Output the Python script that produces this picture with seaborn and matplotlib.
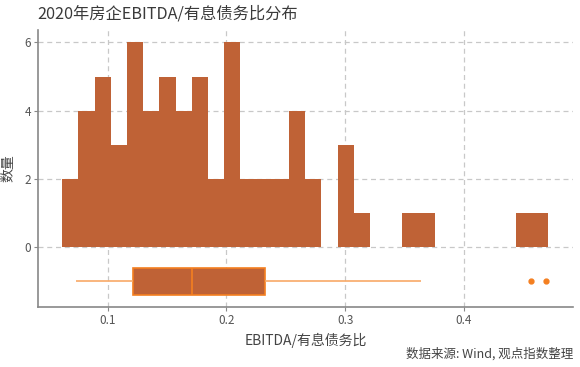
import numpy as np
import pandas as pd
import matplotlib
matplotlib.use("Agg")
import matplotlib.pyplot as plt
import seaborn as sns

# ratio values (EBITDA / interest-bearing debt)
ratios = [
    0.0737, 0.0748,
    0.077, 0.080, 0.084, 0.087,
    0.091, 0.094, 0.096, 0.099, 0.101,
    0.105, 0.109, 0.113,
    0.117, 0.119, 0.1213, 0.1223, 0.125, 0.128,
    0.132, 0.135, 0.138, 0.141,
    0.145, 0.148, 0.150, 0.153, 0.156,
    0.159, 0.162, 0.166, 0.1700,
    0.1716, 0.175, 0.178, 0.181, 0.184,
    0.188, 0.194,
    0.199, 0.201, 0.204, 0.206, 0.208, 0.211,
    0.215, 0.221,
    0.2315, 0.2327,
    0.243, 0.249,
    0.255, 0.258, 0.261, 0.264,
    0.270, 0.276,
    0.296, 0.300, 0.304,
    0.314,
    0.355,
    0.3634,
    0.4563,
    0.4687,
]
box_row = [-1] * len(ratios)
y_ticks = [0, 2, 4, 6]
x_ticks = [0.1, 0.2, 0.3, 0.4]

title = "2020年房企EBITDA/有息债务比分布"
xlabel = "EBITDA/有息债务比"
ylabel = "数量"
source = "数据来源: Wind, 观点指数整理"

df = pd.DataFrame({"ratio": ratios, "row": box_row})

sns.set_theme(style="white")
plt.rcParams["font.family"] = ["Noto Sans CJK SC", "DejaVu Sans"]

fig = plt.figure(figsize=(5.8, 3.67), dpi=100)
ax = fig.add_axes([0.065, 0.1635, 0.923, 0.7545])

bar_color = "#BF6236"
orange = "#F47F20"

sns.histplot(data=df, x="ratio", bins=30, binrange=(0.0618, 0.4709),
             element="step", fill=True,
             color=bar_color, alpha=1, linewidth=0,
             ax=ax, zorder=3)

sns.boxplot(data=df, x="ratio", y="row", orient="h", native_scale=True,
            width=0.8, color=bar_color, linecolor=orange, linewidth=1.2,
            whis=1.5, showcaps=False,
            boxprops=dict(facecolor=bar_color, edgecolor=orange),
            whiskerprops=dict(color="#F8A967", linewidth=1.2),
            medianprops=dict(color=orange, linewidth=1.2),
            flierprops=dict(marker="o", markersize=3.5, markerfacecolor=orange,
                            markeredgecolor=orange),
            ax=ax, zorder=3)

ax.set_xlim(0.0411, 0.4918)
ax.set_ylim(-1.75, 6.36)
ax.set_xticks(x_ticks)
ax.set_xticklabels([f"{v:g}" for v in x_ticks])
ax.set_yticks(y_ticks)
ax.set_yticklabels([str(v) for v in y_ticks])

ax.grid(True, which="major", axis="both", linestyle=(0, (4, 3)),
        color="#C8C8C8", linewidth=0.9, zorder=0)
ax.set_axisbelow(True)

for s in ["top", "right"]:
    ax.spines[s].set_visible(False)
for s in ["left", "bottom"]:
    ax.spines[s].set_color("#888888")
    ax.spines[s].set_linewidth(1.2)

ax.tick_params(axis="both", which="major", length=3, width=0.8, color="#888888",
               labelsize=8.5, labelcolor="#555555", pad=2, left=True, bottom=True)

ax.set_xlabel(xlabel, fontsize=10, color="#444444", labelpad=4)
ax.set_ylabel(ylabel, fontsize=10, color="#444444", labelpad=6)

fig.text(0.064, 0.962, title, fontsize=11.7, color="#3a3a3a", ha="left", va="center")
fig.text(0.988, 0.035, source, fontsize=9, color="#444444", ha="right", va="center")

fig.savefig("out.png", dpi=100)
